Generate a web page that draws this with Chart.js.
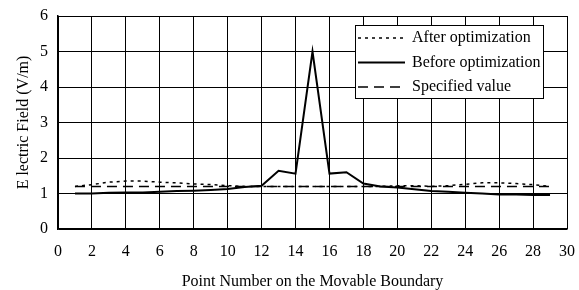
<!DOCTYPE html>
<html>
<head>
<meta charset="utf-8">
<script src="https://cdn.jsdelivr.net/npm/chart.js@4/dist/chart.umd.min.js"></script>
<style>
  html, body { margin: 0; padding: 0; background: #fff; }
  #wrap { width: 579px; height: 290px; position: relative; }
</style>
</head>
<body>
<div id="wrap"><canvas id="chart"></canvas></div>
<script>
// point numbers along the boundary
const pointNumbers = [1, 2, 3, 4, 5, 6, 7, 8, 9, 10, 11, 12, 13, 14, 15, 16, 17, 18, 19, 20, 21, 22, 23, 24, 25, 26, 27, 28, 29];
const afterOpt = [1.2, 1.25, 1.32, 1.35, 1.35, 1.32, 1.3, 1.27, 1.25, 1.22, 1.2, 1.2, 1.2, 1.2, 1.2, 1.2, 1.2, 1.2, 1.2, 1.22, 1.22, 1.2, 1.22, 1.26, 1.3, 1.3, 1.28, 1.25, 1.2];
const beforeOpt = [1.0, 1.0, 1.02, 1.03, 1.03, 1.05, 1.07, 1.08, 1.1, 1.13, 1.18, 1.22, 1.64, 1.56, 5.0, 1.56, 1.6, 1.28, 1.2, 1.17, 1.12, 1.07, 1.05, 1.02, 1.0, 0.97, 0.97, 0.96, 0.96];
const specified = [1.2, 1.2, 1.2, 1.2, 1.2, 1.2, 1.2, 1.2, 1.2, 1.2, 1.2, 1.2, 1.2, 1.2, 1.2, 1.2, 1.2, 1.2, 1.2, 1.2, 1.2, 1.2, 1.2, 1.2, 1.2, 1.2, 1.2, 1.2, 1.2];
const seriesNames = ["After optimization", "Before optimization", "Specified value"];

const FONT = "'Liberation Serif', 'Times New Roman', serif";

function pts(vals) {
  return pointNumbers.map((p, i) => ({ x: p, y: vals[i] }));
}

// legend box drawn inside the plot, upper right
const boxLegend = {
  id: "boxLegend",
  afterDraw(chart) {
    const ctx = chart.ctx;
    const x0 = 355, y0 = 25, w = 188, h = 73;
    ctx.save();
    ctx.fillStyle = "#fff";
    ctx.fillRect(x0, y0, w, h);
    ctx.strokeStyle = "#000";
    ctx.lineWidth = 1;
    ctx.strokeRect(x0 + 0.5, y0 + 0.5, w, h);
    ctx.font = "16px " + FONT;
    ctx.fillStyle = "#000";
    ctx.textBaseline = "middle";
    chart.data.datasets.forEach((ds, i) => {
      const y = y0 + 13 + i * 24.5;
      ctx.beginPath();
      ctx.setLineDash(ds.borderDash || []);
      ctx.lineWidth = ds.borderWidth;
      ctx.moveTo(x0 + 3, y);
      ctx.lineTo(x0 + 50, y);
      ctx.stroke();
      ctx.setLineDash([]);
      ctx.fillText(ds.label, x0 + 57, y);
    });
    ctx.restore();
  }
};

new Chart(document.getElementById("chart"), {
  type: "line",
  data: {
    datasets: [
      { label: seriesNames[0], data: pts(afterOpt), borderColor: "#000", borderWidth: 1.5, borderDash: [3, 4], pointRadius: 0, tension: 0 },
      { label: seriesNames[1], data: pts(beforeOpt), borderColor: "#000", borderWidth: 2, pointRadius: 0, tension: 0 },
      { label: seriesNames[2], data: pts(specified), borderColor: "#000", borderWidth: 1.5, borderDash: [10, 6], pointRadius: 0, tension: 0 }
    ]
  },
  options: {
    responsive: true,
    maintainAspectRatio: false,
    animation: false,
    layout: { padding: { top: 16, right: 12, left: 14, bottom: 0 } },
    plugins: { legend: { display: false }, tooltip: { enabled: false } },
    scales: {
      x: {
        type: "linear",
        min: 0, max: 30,
        ticks: { stepSize: 2, color: "#000", font: { family: FONT, size: 16 }, padding: 13, maxRotation: 0 },
        grid: { color: "#000", lineWidth: 1, drawTicks: false },
        border: { color: "#000", width: 1.5 },
        title: { display: true, text: "Point Number on the Movable Boundary", color: "#000", font: { family: FONT, size: 16, lineHeight: 1 }, padding: 0 },
        afterFit(s) { s.height = 61; s.paddingLeft = 0; s.paddingRight = 0; }
      },
      y: {
        min: 0, max: 6,
        ticks: { stepSize: 1, color: "#000", font: { family: FONT, size: 16 }, padding: 10 },
        grid: { color: "#000", lineWidth: 1, drawTicks: false },
        border: { color: "#000", width: 1.5 },
        title: { display: true, text: "E lectric Field (V/m)", color: "#000", font: { family: FONT, size: 16 }, padding: 0 },
        afterFit(s) { s.width = 44; s.paddingTop = 0; s.paddingBottom = 0; }
      }
    }
  },
  plugins: [boxLegend]
});
</script>
</body>
</html>
